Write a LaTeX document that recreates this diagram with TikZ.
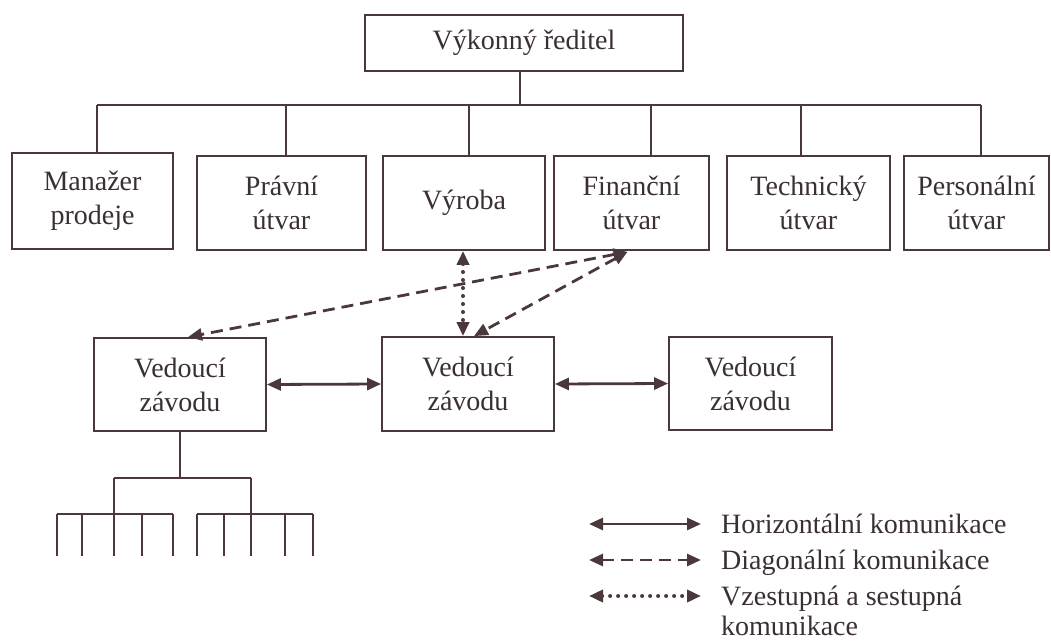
\documentclass[tikz,border=0pt]{standalone}
\usepackage{fontspec}
\setmainfont{Liberation Serif}
\usetikzlibrary{arrows.meta,calc}
\definecolor{ink}{RGB}{74,56,58}
\definecolor{txt}{RGB}{58,48,52}

\begin{document}
\begin{tikzpicture}[x=1pt,y=-1pt,
  box/.style={draw=ink, line width=1.8pt, fill=white, inner sep=0pt, align=center,
              text=txt, font=\fontsize{28}{34}\selectfont},
  link/.style={draw=ink, line width=1.8pt},
  both/.style={draw=ink, line width=2.8pt,
               {Triangle[length=14pt,width=12pt]}-{Triangle[length=14pt,width=12pt]}},
  dashlink/.style={both, dash pattern=on 12pt off 7pt},
  dotlink/.style={both, line width=4pt, line cap=round, dash pattern=on 0pt off 8pt},
  legtext/.style={text=txt, font=\fontsize{28}{30}\selectfont, inner sep=0pt, align=left}
]
\useasboundingbox (0,0) rectangle (1051,644);

% executive
\node[box, minimum width=318pt, minimum height=56pt] (ceo) at (524,43) {Výkonný ředitel};

% departments
\node[box, minimum width=161pt, minimum height=96pt] (mp) at (92.5,201)  {Manažer\\prodeje};
\node[box, minimum width=169pt, minimum height=94pt] (pu) at (281.5,203) {Právní\\útvar};
\node[box, minimum width=162pt, minimum height=94pt] (vy) at (464,203)   {Výroba};
\node[box, minimum width=155pt, minimum height=94pt] (fu) at (631.5,203) {Finanční\\útvar};
\node[box, minimum width=163pt, minimum height=94pt] (tu) at (808.5,203) {Technický\\útvar};
\node[box, minimum width=145pt, minimum height=94pt] (pe) at (976.5,203) {Personální\\útvar};

% bus from the executive to the departments
\coordinate (hub) at (520,105);
\coordinate (d1) at (97,105);
\coordinate (d2) at (286,105);
\coordinate (d3) at (469,105);
\coordinate (d4) at (651,105);
\coordinate (d5) at (801,105);
\coordinate (d6) at (981,105);
\draw[link] (ceo.south -| hub) -- (hub);
\draw[link] (d1) -- (d6);
\foreach \d/\n in {d1/mp,d2/pu,d3/vy,d4/fu,d5/tu,d6/pe}
  \draw[link] (\d) -- (\d |- \n.north);

% plant managers
\node[box, minimum width=172pt, minimum height=93pt] (v1) at (180,384.5) {Vedoucí\\závodu};
\node[box, minimum width=172pt, minimum height=94pt] (v2) at (468,384)   {Vedoucí\\závodu};
\node[box, minimum width=163pt, minimum height=93pt] (v3) at (750.5,383.5) {Vedoucí\\závodu};

% horizontal communication
\draw[both] (v1.east) -- (v2.west);
\draw[both] (v2.east) -- (v3.west);

% diagonal communication
\coordinate (fin) at ($(fu.south)+(-4,1)$);
\draw[dashlink] (fin) -- ($(v1.north)+(8,0)$);
\draw[dashlink] (fin) -- ($(v2.north)+(6,0)$);

% upward and downward communication
\draw[dotlink] ($(vy.south)+(-1,0)$) -- ($(v2.north)+(-5,0)$);

% subordinate tree
\coordinate (t0) at (180,478);
\draw[link] (v1.south) -- (t0);
\draw[link] (114,478) -- (251,478);
\draw[link] (57,514) -- (173,514);
\draw[link] (197,514) -- (313,514);
\draw[link] (114,478) -- (114,556);
\draw[link] (251,478) -- (251,556);
\foreach \x in {57,82,142,173,197,224,285,313}
  \draw[link] (\x,514) -- (\x,556);

% legend
\coordinate (l1a) at (589,524); \coordinate (l1b) at (701,524);
\coordinate (l2a) at (589,560); \coordinate (l2b) at (701,560);
\coordinate (l3a) at (589,596); \coordinate (l3b) at (701,596);
\draw[both] (l1a) -- (l1b);
\draw[dashlink] (l2a) -- (l2b);
\draw[dotlink] (l3a) -- (l3b);
\node[legtext, anchor=west] (h) at (721,524) {Horizontální komunikace};
\node[legtext, anchor=west] (d) at (721,563) {Diagonální komunikace};
\node[legtext, anchor=north west] (u) at (721,586) {Vzestupná a sestupná\\komunikace};
\end{tikzpicture}
\end{document}
